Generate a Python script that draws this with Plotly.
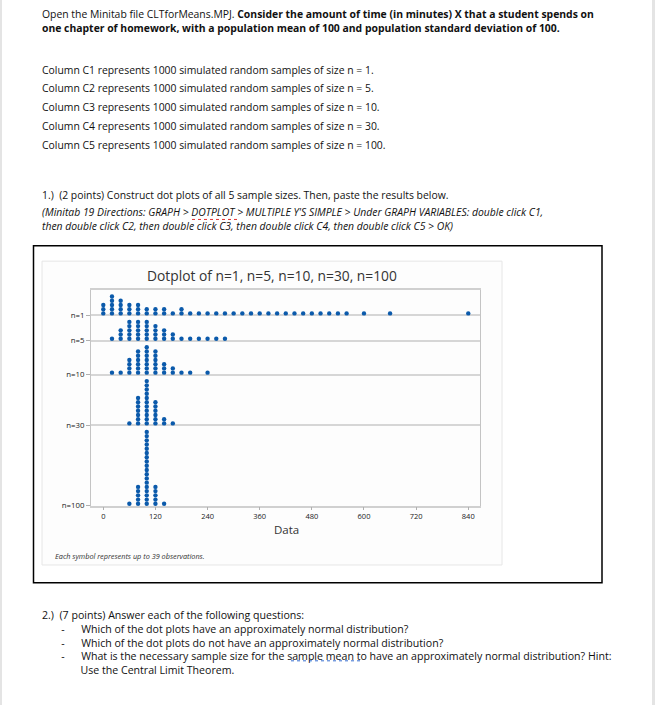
import plotly.graph_objects as go

W, H = 655, 710

# ---------------- data ----------------
row_labels = ["n=1", "n=5", "n=10", "n=30", "n=100"]

n1_bins = [0, 20, 40, 60, 80, 100, 120, 140, 160, 180, 200, 220, 240, 260, 280, 300,
           320, 340, 360, 380, 400, 420, 440, 460, 480, 500, 520, 540, 560, 600, 660, 840]
n1_stacks = [3, 5, 4, 3, 3, 2, 2, 2, 1, 2, 1, 1, 1, 1, 1, 1,
             1, 1, 1, 1, 1, 1, 1, 1, 1, 1, 1, 1, 1, 1, 1, 1]

n5_bins = [20, 40, 60, 80, 100, 120, 140, 160, 180, 200, 220, 240, 260, 280]
n5_stacks = [1, 3, 5, 5, 5, 4, 3, 2, 1, 1, 1, 1, 1, 1]

n10_bins = [20, 40, 60, 80, 100, 120, 140, 160, 180, 200, 240]
n10_stacks = [1, 1, 4, 6, 7, 6, 3, 2, 1, 1, 1]

n30_bins = [60, 80, 100, 120, 140, 160]
n30_stacks = [1, 7, 11, 6, 2, 1]

n100_bins = [60, 80, 100, 120, 140]
n100_stacks = [1, 5, 18, 5, 1]

x_ticks = [0, 120, 240, 360, 480, 600, 720, 840]

title_text = "Dotplot of n=1, n=5, n=10, n=30, n=100"
x_title = "Data"
footnote = "Each symbol represents up to 39 observations."

doc_top = [
    ("Open the Minitab file CLTforMeans.MPJ. <b>Consider the amount of time (in minutes) X that a student spends on</b>", 14),
    ("<b>one chapter of homework, with a population mean of 100 and population standard deviation of 100.</b>", 28),
    ("Column C1 represents 1000 simulated random samples of size n = 1.", 70),
    ("Column C2 represents 1000 simulated random samples of size n = 5.", 89),
    ("Column C3 represents 1000 simulated random samples of size n = 10.", 108),
    ("Column C4 represents 1000 simulated random samples of size n = 30.", 127),
    ("Column C5 represents 1000 simulated random samples of size n = 100.", 146),
    ("1.)  (2 points) Construct dot plots of all 5 sample sizes. Then, paste the results below.", 196),
    ("<i>(Minitab 19 Directions: GRAPH &gt; DOTPLOT &gt; MULTIPLE Y'S SIMPLE &gt; Under GRAPH VARIABLES: double click C1,</i>", 214),
    ("<i>then double click C2, then double click C3, then double click C4, then double click C5 &gt; OK)</i>", 228),
]
question2_head = "2.)  (7 points) Answer each of the following questions:"
question2_items = [
    "Which of the dot plots have an approximately normal distribution?",
    "Which of the dot plots do not have an approximately normal distribution?",
    "What is the necessary sample size for the sample mean to have an approximately normal distribution? Hint:",
]
question2_tail = "Use the Central Limit Theorem."

# ---------------- helpers ----------------
def X(px):
    return px / W


def Y(py):
    return 1 - py / H


DOT = "#0b5aab"
doc_font = dict(family="Open Sans", size=10.4, color="#111111")
NB = "\u00a0"

# rows from bottom to top
rows = [
    ("n=100", n100_bins, n100_stacks),
    ("n=30", n30_bins, n30_stacks),
    ("n=10", n10_bins, n10_stacks),
    ("n=5", n5_bins, n5_stacks),
    ("n=1", n1_bins, n1_stacks),
]

fig = go.Figure()
base = 0
baselines = {}
for label, bins, stacks in rows:
    xs, ys = [], []
    for b, k in zip(bins, stacks):
        for j in range(k):
            xs.append(b)
            ys.append(base + 0.45 + j)
    fig.add_trace(go.Scatter(x=xs, y=ys, mode="markers", cliponaxis=False,
                             marker=dict(size=4.4, color=DOT, line=dict(width=0)),
                             showlegend=False, hoverinfo="skip"))
    baselines[label] = base
    base += max(stacks) + 1
top = base

shapes = [
    # page edges
    dict(type="rect", xref="paper", yref="paper", x0=X(0), x1=X(2), y0=0, y1=1,
         fillcolor="#e4e4e4", line=dict(width=0), layer="below"),
    dict(type="rect", xref="paper", yref="paper", x0=X(652), x1=X(655), y0=0, y1=1,
         fillcolor="#e4e4e4", line=dict(width=0), layer="below"),
    # black frame around pasted image
    dict(type="rect", xref="paper", yref="paper", x0=X(33.5), x1=X(602), y0=Y(587), y1=Y(247.5),
         line=dict(color="#000000", width=1.5), layer="below"),
    # minitab graph panel
    dict(type="rect", xref="paper", yref="paper", x0=X(42), x1=X(502), y0=Y(569), y1=Y(263),
         fillcolor="#fdfdfd", line=dict(color="#e6e6e6", width=1), layer="below"),
    # spell-check underlines
    dict(type="line", xref="paper", yref="paper", x0=X(192), x1=X(237), y0=Y(221), y1=Y(221),
         line=dict(color="#e03030", width=1, dash="dot")),
    dict(type="line", xref="paper", yref="paper", x0=X(291), x1=X(363), y0=Y(665.5), y1=Y(665.5),
         line=dict(color="#3a6fd0", width=1, dash="dot")),
]

annotations = []
for text, y in doc_top:
    annotations.append(dict(text=text, x=X(40), y=Y(y), xref="paper", yref="paper",
                            xanchor="left", yanchor="middle", showarrow=False, font=doc_font))

# question 2 block as one multi-line text (dash at ~60px, item text at ~78px)
dash_prefix = NB * 7 + "-" + NB * 6
tail_prefix = NB * 14
q2_lines = [question2_head] + [dash_prefix + t for t in question2_items] + [tail_prefix + question2_tail]
annotations.append(dict(text="<br>".join(q2_lines), x=X(40), y=Y(647), xref="paper", yref="paper",
                        xanchor="left", yanchor="middle", align="left", showarrow=False,
                        font=dict(family="Open Sans", size=10.6, color="#111111")))

annotations += [
    dict(text=title_text, x=X(271.5), y=Y(277), xref="paper", yref="paper",
         xanchor="center", yanchor="middle", showarrow=False,
         font=dict(family="Open Sans", size=13.8, color="#333333")),
    dict(text=x_title, x=X(286), y=Y(533), xref="paper", yref="paper",
         xanchor="center", yanchor="middle", showarrow=False,
         font=dict(family="Open Sans", size=11.5, color="#333333")),
    dict(text="<i>" + footnote + "</i>", x=X(52.5), y=Y(560), xref="paper", yref="paper",
         xanchor="left", yanchor="middle", showarrow=False,
         font=dict(family="Open Sans", size=7.3, color="#333333")),
]

fig.update_layout(
    width=W, height=H,
    margin=dict(l=0, r=0, t=0, b=0),
    paper_bgcolor="#ffffff", plot_bgcolor="#ffffff",
    shapes=shapes, annotations=annotations,
    xaxis=dict(domain=[X(91), X(480)], range=[-28.3, 867], tickmode="array",
               tickvals=x_ticks, ticktext=[str(t) for t in x_ticks],
               ticks="outside", ticklen=3, tickcolor="#b0b0b0", tickwidth=1,
               showgrid=False, zeroline=False, showline=True, linecolor="#d0d0d0",
               linewidth=1.5, mirror=True,
               tickfont=dict(family="Open Sans", size=7.5, color="#222222")),
    yaxis=dict(domain=[Y(509.3), Y(292)], range=[0, top], tickmode="array",
               tickvals=[baselines[l] for l in row_labels], ticktext=row_labels,
               ticks="outside", ticklen=4, tickcolor="#b0b0b0", tickwidth=1,
               showgrid=True, gridcolor="#d6d6d6", gridwidth=1.5, zeroline=False,
               showline=True, linecolor="#c4c4c4", linewidth=1, mirror=True,
               tickfont=dict(family="Open Sans", size=7.8, color="#222222")),
)

fig.write_html("out.html")
